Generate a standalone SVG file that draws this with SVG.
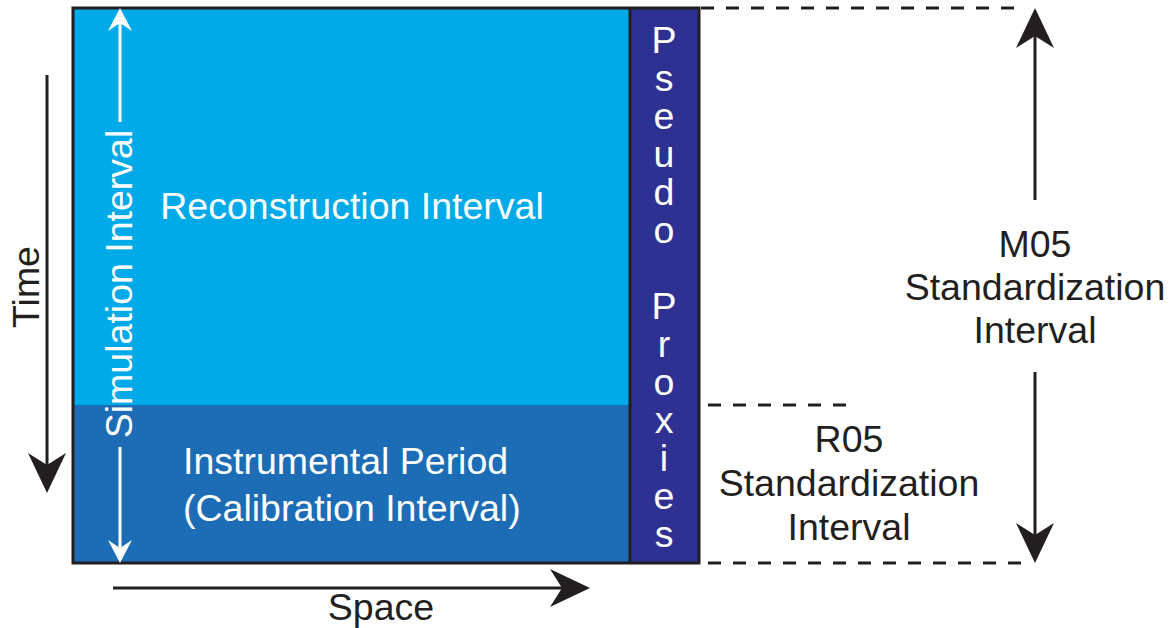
<svg xmlns="http://www.w3.org/2000/svg" width="1169" height="628" viewBox="0 0 1169 628">
<defs>
<style>
.t{font-family:"Liberation Sans",Arial,sans-serif;font-size:37.5px}
.w{fill:#ffffff}
.k{fill:#231f20}
.bl{stroke:#231f20;stroke-width:3;fill:none}
.wl{stroke:#ffffff;stroke-width:3;fill:none}
.dash{stroke:#231f20;stroke-width:3;stroke-dasharray:13 12;fill:none}
</style>
<path id="bh" d="M0,0 L-19,-40 L0,-28 L19,-40 Z" fill="#231f20"/>
<path id="wh" d="M0,0 L-12,-23 L0,-15 L12,-23 Z" fill="#ffffff"/>
</defs>
<rect width="1169" height="628" fill="#ffffff"/>
<g id="recon">
<rect x="73" y="8" width="557" height="397" fill="#00a9e8"/>
<text class="t w" x="352" y="219" text-anchor="middle">Reconstruction Interval</text>
</g>
<g id="instrumental">
<rect x="73" y="405" width="557" height="158" fill="#1c6db5"/>
<text class="t w" x="183" y="474">Instrumental Period</text>
<text class="t w" x="183" y="521">(Calibration Interval)</text>
</g>
<g id="pseudo">
<rect x="630" y="8" width="69" height="555" fill="#2e3192"/>
<g class="t w" text-anchor="middle">
<text x="664" y="53">P</text>
<text x="664" y="91">s</text>
<text x="664" y="129">e</text>
<text x="664" y="167">u</text>
<text x="664" y="205">d</text>
<text x="664" y="243">o</text>
<text x="664" y="319">P</text>
<text x="664" y="357">r</text>
<text x="664" y="395">o</text>
<text x="664" y="433">x</text>
<text x="664" y="471">i</text>
<text x="664" y="509">e</text>
<text x="664" y="547">s</text>
</g>
</g>
<g id="frame">
<rect x="73" y="8" width="626" height="555" class="bl"/>
<line x1="630" y1="8" x2="630" y2="563" class="bl"/>
</g>
<g id="simulation">
<line x1="120" y1="12" x2="120" y2="122" class="wl"/>
<line x1="120" y1="447" x2="120" y2="558" class="wl"/>
<use href="#wh" transform="translate(120,8) rotate(180)"/>
<use href="#wh" transform="translate(120,563)"/>
<text class="t w" transform="translate(132,284) rotate(-90)" text-anchor="middle">Simulation Interval</text>
</g>
<g id="connectors">
<line x1="47" y1="75" x2="47" y2="470" class="bl"/>
<use href="#bh" transform="translate(47,493)"/>
<line x1="113" y1="588" x2="570" y2="588" class="bl"/>
<use href="#bh" transform="translate(590,588) rotate(-90)"/>
<line x1="1035" y1="30" x2="1035" y2="200" class="bl"/>
<line x1="1035" y1="372" x2="1035" y2="540" class="bl"/>
<use href="#bh" transform="translate(1035,8) rotate(180)"/>
<use href="#bh" transform="translate(1035,563)"/>
<line x1="701" y1="8" x2="1025" y2="8" class="dash"/>
<line x1="708" y1="405" x2="846" y2="405" class="dash"/>
<line x1="708" y1="563" x2="1025" y2="563" class="dash"/>
</g>
<g id="time">
<text class="t k" transform="translate(39,287) rotate(-90)" text-anchor="middle">Time</text>
</g>
<g id="space">
<text class="t k" x="381" y="620" text-anchor="middle">Space</text>
</g>
<g id="m05">
<text class="t k" x="1035" y="257" text-anchor="middle">M05</text>
<text class="t k" x="1035" y="300" text-anchor="middle">Standardization</text>
<text class="t k" x="1035" y="343" text-anchor="middle">Interval</text>
</g>
<g id="r05">
<text class="t k" x="849" y="452" text-anchor="middle">R05</text>
<text class="t k" x="849" y="496" text-anchor="middle">Standardization</text>
<text class="t k" x="849" y="540" text-anchor="middle">Interval</text>
</g>
</svg>
